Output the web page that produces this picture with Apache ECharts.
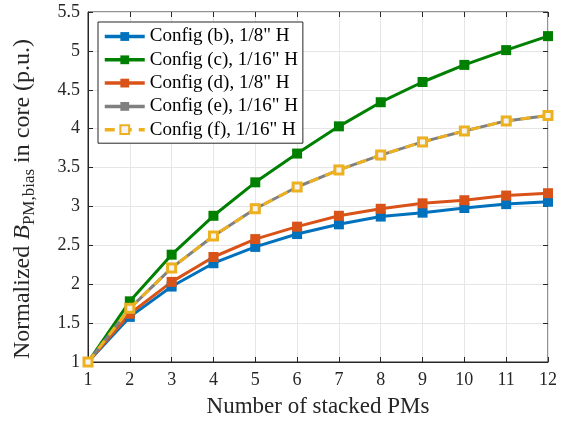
<!DOCTYPE html>
<html><head><meta charset="utf-8">
<script src="https://cdn.jsdelivr.net/npm/echarts@6/dist/echarts.min.js"></script>
<style>html,body{margin:0;padding:0;background:#fff}#c{width:569px;height:425px}</style>
</head><body><div id="c"></div>
<script>
const categories = [1,2,3,4,5,6,7,8,9,10,11,12];
const configB = [1, 1.58, 1.97, 2.27, 2.48, 2.645, 2.77, 2.87, 2.92, 2.98, 3.03, 3.06];
const configC = [1, 1.78, 2.38, 2.88, 3.31, 3.68, 4.03, 4.34, 4.60, 4.82, 5.01, 5.19];
const configD = [1, 1.62, 2.03, 2.35, 2.58, 2.74, 2.88, 2.97, 3.04, 3.08, 3.14, 3.17];
const configE = [1, 1.69, 2.21, 2.62, 2.97, 3.25, 3.47, 3.66, 3.83, 3.97, 4.10, 4.17];
const configF = [1, 1.69, 2.21, 2.62, 2.97, 3.25, 3.47, 3.66, 3.83, 3.97, 4.10, 4.17];
const names = ['Config (b), 1/8" H','Config (c), 1/16" H','Config (d), 1/8" H','Config (e), 1/16" H','Config (f), 1/16" H'];

const font = 'Liberation Serif, Times New Roman, serif';
const pair = arr => arr.map((v,i)=>[categories[i], v]);
function solid(name, data, color){
  return {name, type:'line', data:pair(data), symbol:'rect', symbolSize:10,
    lineStyle:{color, width:3}, itemStyle:{color}, z:2};
}
const series = [
  solid(names[0], configB, '#0072BD'),
  solid(names[1], configC, '#008000'),
  solid(names[2], configD, '#D95319'),
  solid(names[3], configE, '#808080'),
  {name:names[4], type:'line', data:pair(configF), symbol:'rect', symbolSize:8,
   lineStyle:{color:'#EDB120', width:3, type:[10,7]},
   itemStyle:{color:'#f3f3f3', borderColor:'#EDB120', borderWidth:3}, z:3}
];
const chart = echarts.init(document.getElementById('c'));
const axisLbl = {fontFamily:font, fontSize:18, color:'#262626'};
chart.setOption({
  animation:false,
  grid:{left:88, top:12, width:460, height:350, show:true, borderColor:'#262626', borderWidth:1},
  legend:{left:98, top:22, orient:'vertical', itemWidth:40, itemHeight:11, itemGap:4.3,
    backgroundColor:'#fff', borderColor:'#262626', borderWidth:1, borderRadius:0,
    padding:[5,5,4,5],
    lineStyle:{width:3.5},
    textStyle:{fontFamily:font, fontSize:19, lineHeight:19, color:'#000'},
    data:names.map(n=>({name:n, lineStyle:{width:3.5}}))},
  xAxis:[{type:'value', min:1, max:12, interval:1,
    name:'Number of stacked PMs', nameLocation:'middle', nameGap:33,
    nameTextStyle:{fontFamily:font, fontSize:23, color:'#262626'},
    axisLine:{lineStyle:{color:'#262626'}},
    axisTick:{inside:true, length:5, lineStyle:{color:'#262626'}},
    axisLabel:Object.assign({margin:9}, axisLbl),
    splitLine:{lineStyle:{color:'#e6e6e6'}}},
    {type:'value', min:1, max:12, interval:1, position:'top',
     axisLine:{show:false}, axisTick:{inside:true, length:5, lineStyle:{color:'#262626'}}, axisLabel:{show:false}, splitLine:{show:false}}],
  yAxis:[{type:'value', min:1, max:5.5, interval:0.5,
    name:'{n|Normalized }{b|B}{s|PM,bias}{n| in core (p.u.)}', nameLocation:'middle', nameGap:50,
    nameTextStyle:{padding:[0,24,0,0], rich:{
      n:{fontFamily:font, fontSize:24, color:'#262626'},
      b:{fontFamily:font, fontSize:24, fontStyle:'italic', color:'#262626'},
      s:{fontFamily:font, fontSize:17, color:'#262626', verticalAlign:'bottom', padding:[14,0,0,0]}}},
    axisLine:{lineStyle:{color:'#262626'}},
    axisTick:{inside:true, length:5, lineStyle:{color:'#262626'}},
    axisLabel:Object.assign({margin:8, formatter:v=>String(v)}, axisLbl),
    splitLine:{lineStyle:{color:'#e6e6e6'}}},
    {type:'value', min:1, max:5.5, interval:0.5, position:'right',
     axisLine:{show:false}, axisTick:{inside:true, length:5, lineStyle:{color:'#262626'}}, axisLabel:{show:false}, splitLine:{show:false}}],
  series
});
</script></body></html>
